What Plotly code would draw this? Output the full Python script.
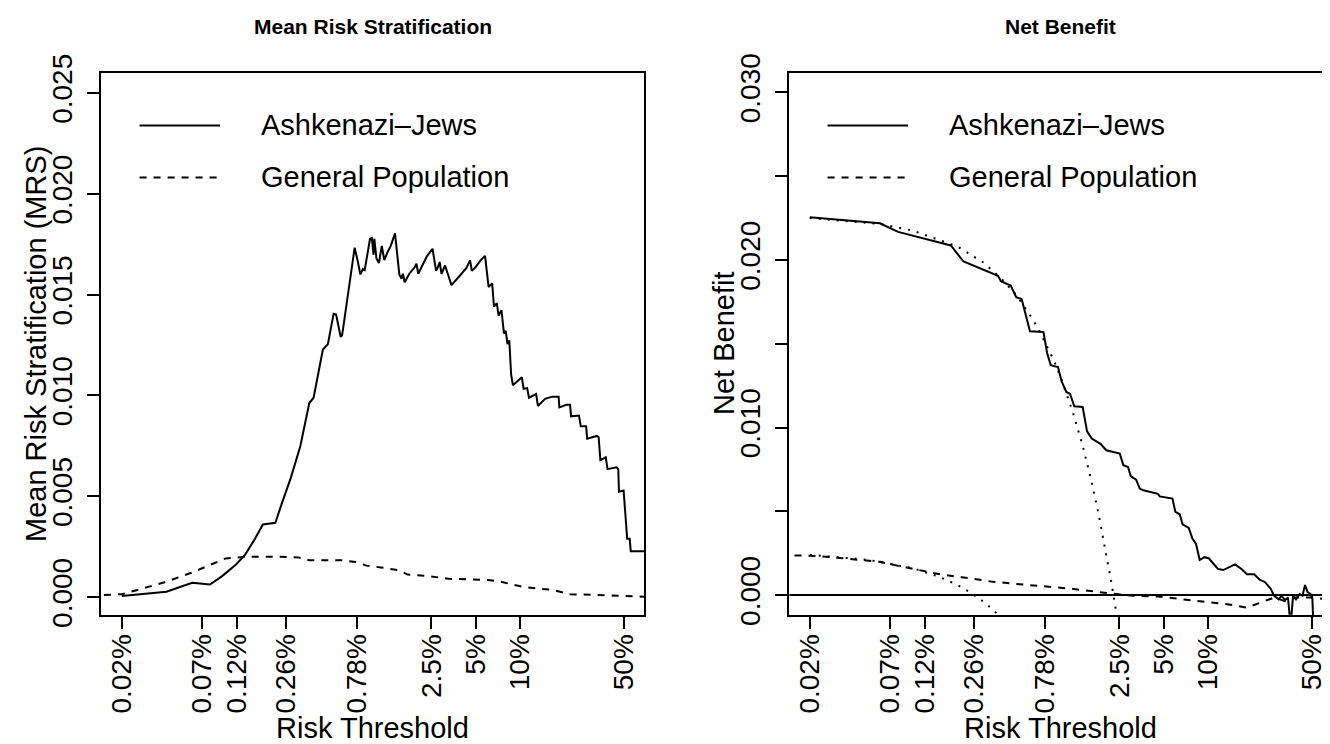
import plotly.graph_objects as go

# ---------------- data (risk thresholds in %) -------------
# Mean Risk Stratification - Ashkenazi-Jews (solid)
mrs_aj_t = [0.0200, 0.0401, 0.0599, 0.0791, 0.0951, 0.1188, 0.1366, 0.1596, 0.1804, 0.2017,
            0.2193, 0.2384, 0.2786, 0.3238, 0.3721, 0.3978, 0.4599, 0.4972, 0.5436, 0.5651,
            0.6073, 0.6210, 0.7548, 0.7891, 0.8253, 0.8581, 0.8824, 0.9592, 0.9863, 1.0139,
            1.0254, 1.0602, 1.1023, 1.1526, 1.1984, 1.2527, 1.3244, 1.4164, 1.5145, 1.5658,
            1.6012, 1.6464, 1.7694, 1.9239, 1.9782, 2.0340, 2.2108, 2.3375, 2.5415, 2.6134,
            2.6870, 2.7629, 2.8408, 2.9211, 3.0883, 3.2650, 3.4141, 3.8606, 4.3141, 4.5604,
            4.6892, 4.9579, 5.3911, 5.7624, 5.9251, 6.0926, 6.4417, 6.6237, 6.9241, 7.1198,
            7.4451, 7.7404, 7.9588, 8.1835, 8.4147, 8.6524, 8.8968, 9.4079, 10.226, 10.514,
            11.117, 11.432, 12.781, 13.140, 14.688, 16.422, 18.153, 18.358, 20.512, 21.689,
            22.056, 24.929, 25.632, 27.868, 28.334, 32.929, 33.858, 34.814, 37.853, 38.914,
            44.740, 45.998, 46.509, 50.003, 51.416, 52.869, 54.967, 55.887, 70.0]
mrs_aj_v = [0.000053, 0.000266, 0.000709, 0.000620, 0.001028, 0.001612, 0.002091, 0.002888, 0.003597, 0.003632,
            0.003685, 0.004483, 0.005900, 0.007495, 0.009621, 0.009887, 0.012279, 0.012544, 0.014050, 0.014015,
            0.012899, 0.012987, 0.017328, 0.016708, 0.016000, 0.016265, 0.016212, 0.017771, 0.017807, 0.016974,
            0.017771, 0.016797, 0.016566, 0.017417, 0.016708, 0.017062, 0.017417, 0.018037, 0.016000, 0.015787,
            0.016035, 0.015610, 0.016035, 0.016354, 0.016531, 0.016035, 0.016531, 0.016921, 0.017275, 0.016797,
            0.016177, 0.016354, 0.016619, 0.016035, 0.016442, 0.015911, 0.015468, 0.015911, 0.016318, 0.016708,
            0.016177, 0.016354, 0.016708, 0.016921, 0.016000, 0.015379, 0.015556, 0.014405, 0.014582, 0.013962,
            0.014228, 0.013076, 0.013200, 0.012544, 0.012722, 0.011038, 0.010507, 0.010684, 0.010897, 0.010330,
            0.010365, 0.009887, 0.010064, 0.009479, 0.009833, 0.009940, 0.009940, 0.009408, 0.009532, 0.009532,
            0.008965, 0.009001, 0.008469, 0.008469, 0.007849, 0.007991, 0.007938, 0.006786, 0.006928, 0.006343,
            0.006432, 0.006343, 0.005227, 0.005280, 0.004040, 0.002888, 0.002888, 0.002268, 0.002268]

# Mean Risk Stratification - General Population (dashed)
mrs_gp_t = [0.01514, 0.0200, 0.02716, 0.0401, 0.05926, 0.07822, 0.1006, 0.1222, 0.1366, 0.2132,
            0.3149, 0.3721, 0.6141, 0.7674, 0.9073, 1.1333, 1.4974, 1.7213, 2.4717, 3.2650,
            6.0256, 7.3196, 10.514, 16.422, 21.689, 32.02, 70.0]
mrs_gp_v = [0.000106, 0.000142, 0.000408, 0.000762, 0.001205, 0.001559, 0.001914, 0.001967, 0.002002, 0.002002,
            0.001967, 0.001825, 0.001825, 0.001736, 0.001559, 0.001471, 0.001329, 0.001116, 0.001028, 0.000904,
            0.000850, 0.000762, 0.000496, 0.000354, 0.000142, 0.000106, 0.000018]

# Net Benefit - Ashkenazi-Jews (solid)
nb_aj_t = [0.0200, 0.0597, 0.0792, 0.1802, 0.2197, 0.3762, 0.3937, 0.4589, 0.4996, 0.5439,
           0.6194, 0.7638, 0.8083, 0.8558, 0.9583, 1.0141, 1.0917, 1.1552, 1.2365, 1.4086,
           1.5082, 1.6232, 1.8593, 2.0358, 2.5107, 2.6569, 2.8608, 2.9763, 3.2396, 3.4285,
           3.6281, 4.5520, 4.6827, 5.7096, 5.9744, 6.3945, 6.6911, 7.3654, 7.7948, 8.2508,
           8.7340, 9.3992, 10.060, 10.952, 11.591, 12.618, 13.740, 15.126, 16.756, 18.239,
           20.427, 22.240, 24.210, 26.363, 27.894, 29.870, 31.255, 33.076, 34.594, 35.384,
           36.609, 37.451, 39.180, 41.470, 43.383, 45.146, 46.970, 49.149, 50.560, 52.03]
nb_aj_v = [0.022553, 0.022190, 0.021678, 0.020868, 0.019907, 0.019054, 0.018734, 0.018478, 0.017773, 0.017667,
           0.015747, 0.015704, 0.014466, 0.013720, 0.013613, 0.012760, 0.012119, 0.012013, 0.011266, 0.011223,
           0.009772, 0.009346, 0.009026, 0.008641, 0.008449, 0.007745, 0.007639, 0.007105, 0.006892, 0.006358,
           0.006252, 0.006038, 0.005889, 0.005761, 0.004971, 0.004822, 0.004225, 0.004011, 0.003371, 0.003051,
           0.002091, 0.002262, 0.002198, 0.001771, 0.001558, 0.001494, 0.001664, 0.001835, 0.001558, 0.001238,
           0.001238, 0.000917, 0.000768, 0.000384, -0.000043, -0.000256, -0.000043, -0.000299, -0.000149, -0.001110,
           -0.001110, -0.000043, -0.000256, 0.000064, -0.000043, 0.000597, 0.000171, 0.000064, -0.000149, -0.003]

# Net Benefit - General Population (dashed)
nb_gp_t = [0.01576, 0.0200, 0.02778, 0.04370, 0.05970, 0.07702, 0.1082, 0.1520, 0.2136, 0.3360,
           0.4721, 0.7428, 1.1685, 1.8385, 2.3068, 3.0606, 4.5520, 6.0423, 8.0205, 10.646,
           14.135, 18.239, 22.240, 27.894, 33.076, 39.180, 49.149, 64.52]
nb_gp_v = [0.002368, 0.002347, 0.002262, 0.002091, 0.001984, 0.001771, 0.001494, 0.001238, 0.001067, 0.000811,
           0.000683, 0.000555, 0.000384, 0.000171, 0.000064, -0.000043, -0.000085, -0.000213, -0.000299, -0.000469,
           -0.000576, -0.000747, -0.000469, -0.000149, -0.000363, -0.000149, -0.000149, -0.000256]

# Net Benefit - treat all (dotted), Ashkenazi-Jews
ta_aj_t = [0.02, 0.06, 0.1, 0.2, 0.3, 0.4, 0.5, 0.6, 0.7, 0.8, 0.9, 1.0, 1.2, 1.4, 1.6, 1.8, 2.0, 2.2, 2.4, 2.6]
ta_aj_v = [0.02250, 0.02215, 0.02175, 0.02080, 0.01985, 0.01885, 0.01790, 0.01690, 0.01595, 0.01495,
           0.01400, 0.01300, 0.01100, 0.00900, 0.00695, 0.00490, 0.00285, 0.00080, -0.00125, -0.00330]

# Net Benefit - treat all (dotted), General Population
ta_gp_t = [0.02, 0.05, 0.1, 0.15, 0.2, 0.25, 0.3, 0.35, 0.4]
ta_gp_v = [0.00240, 0.00210, 0.00160, 0.00110, 0.00060, 0.00010, -0.00040, -0.00090, -0.00140]

x_tick_vals = [0.02, 0.07, 0.12, 0.26, 0.78, 2.5, 5, 10, 50]
x_tick_text = ["0.02%", "0.07%", "0.12%", "0.26%", "0.78%", "2.5%", "5%", "10%", "50%"]
mrs_tick_vals = [0.0, 0.005, 0.010, 0.015, 0.020, 0.025]
mrs_tick_text = ["0.000", "0.005", "0.010", "0.015", "0.020", "0.025"]
nb_tick_vals = [0.0, 0.005, 0.010, 0.015, 0.020, 0.025, 0.030]
nb_tick_text = ["0.000", "", "0.010", "", "0.020", "", "0.030"]

legend_labels = ["Ashkenazi\u2013Jews", "General Population"]

# ---------------- figure -------------
W, H = 1330, 744
OFF = 8  # the page body margin shifts the figure by 8px
BLACK = "#000000"
FONT = "Liberation Sans, Arial, Helvetica, sans-serif"
SOLID = "solid"
DASHED = "7px,7px"
DOTTED = "2px,7px"
LW = 2


def fx(p):
    return (p - OFF) / W


def fy(p):
    return 1 - (p - OFF) / H


fig = go.Figure()


def add_line(x, y, dash, xa, ya):
    fig.add_trace(go.Scatter(x=x, y=y, mode="lines", xaxis=xa, yaxis=ya, showlegend=False,
                             hoverinfo="skip",
                             line=dict(color=BLACK, width=LW, dash=dash)))


add_line(mrs_aj_t, mrs_aj_v, SOLID, "x", "y")
add_line(mrs_gp_t, mrs_gp_v, DASHED, "x", "y")
add_line(ta_aj_t, ta_aj_v, DOTTED, "x2", "y2")
add_line(ta_gp_t, ta_gp_v, DOTTED, "x2", "y2")
add_line(nb_aj_t, nb_aj_v, SOLID, "x2", "y2")
add_line(nb_gp_t, nb_gp_v, DASHED, "x2", "y2")

# screen positions of the plot boxes
box_top, box_bot = 73, 615
left_l, left_r = 101.4, 644.0
box_w = left_r - left_l
right_l = 789.4
right_r = right_l + box_w
ydom = [fy(box_bot), fy(box_top)]

common_x = dict(type="log", tickmode="array", tickvals=x_tick_vals, ticktext=x_tick_text,
                tickangle=-90, ticks="outside", ticklen=12, tickwidth=2, tickcolor=BLACK,
                showline=True, linecolor=BLACK, linewidth=2, mirror=True,
                showgrid=False, zeroline=False, automargin=False, ticklabelstandoff=-6,
                tickfont=dict(family=FONT, size=28, color=BLACK))
common_y = dict(tickangle=-90, ticks="outside", ticklen=12, tickwidth=2,
                tickcolor=BLACK, showline=True, linecolor=BLACK, linewidth=2,
                showgrid=False, zeroline=False, automargin=False, ticklabelstandoff=4,
                tickfont=dict(family=FONT, size=28, color=BLACK))

fig.update_layout(
    width=W, height=H,
    margin=dict(l=0, r=0, t=0, b=0),
    paper_bgcolor="white", plot_bgcolor="white",
    font=dict(family=FONT, color=BLACK),
    xaxis=dict(domain=[fx(left_l), fx(left_r)], range=[-1.837, 1.837], anchor="y", **common_x),
    yaxis=dict(domain=ydom, range=[-0.00089, 0.02599], anchor="x", tickmode="array",
               tickvals=mrs_tick_vals, ticktext=mrs_tick_text, mirror=True, **common_y),
    xaxis2=dict(domain=[fx(right_l), min(1.0, fx(right_r))], range=[-1.837, 1.837], anchor="y2", **common_x),
    yaxis2=dict(domain=ydom, range=[-0.00119, 0.03116], anchor="x2", tickmode="array",
                tickvals=nb_tick_vals, ticktext=nb_tick_text, mirror=False, **common_y),
)

# horizontal reference line at zero on the net benefit panel
fig.add_shape(type="line", xref="x2 domain", yref="y2", x0=0, x1=1, y0=0, y1=0,
              line=dict(color=BLACK, width=2))

# titles
fig.add_annotation(text="<b>Mean Risk Stratification</b>", xref="paper", yref="paper",
                   x=fx((left_l + left_r) / 2), y=fy(27), showarrow=False,
                   xanchor="center", yanchor="middle", font=dict(family=FONT, size=21, color=BLACK))
fig.add_annotation(text="<b>Net Benefit</b>", xref="paper", yref="paper",
                   x=fx((right_l + right_r) / 2), y=fy(27), showarrow=False,
                   xanchor="center", yanchor="middle", font=dict(family=FONT, size=21, color=BLACK))

# axis titles
for cx in [(left_l + left_r) / 2, (right_l + right_r) / 2]:
    fig.add_annotation(text="Risk Threshold", xref="paper", yref="paper", x=fx(cx), y=fy(728),
                       showarrow=False, xanchor="center", yanchor="middle",
                       font=dict(family=FONT, size=29, color=BLACK))
fig.add_annotation(text="Mean Risk Stratification (MRS)", xref="paper", yref="paper",
                   x=fx(36), y=fy((box_top + box_bot) / 2), textangle=-90, showarrow=False,
                   xanchor="center", yanchor="middle", font=dict(family=FONT, size=29, color=BLACK))
fig.add_annotation(text="Net Benefit", xref="paper", yref="paper",
                   x=fx(36 + 688), y=fy((box_top + box_bot) / 2), textangle=-90, showarrow=False,
                   xanchor="center", yanchor="middle", font=dict(family=FONT, size=29, color=BLACK))

# legends
for off in [0, right_l - left_l]:
    for i, (lab, dash) in enumerate(zip(legend_labels, [SOLID, DASHED])):
        yy = 125.4 + i * 52
        fig.add_shape(type="line", xref="paper", yref="paper",
                      x0=fx(139.6 + off), x1=fx(220 + off), y0=fy(yy), y1=fy(yy),
                      line=dict(color=BLACK, width=LW, dash=dash))
        fig.add_annotation(text=lab, xref="paper", yref="paper", x=fx(259 + off), y=fy(yy),
                           showarrow=False, xanchor="left", yanchor="middle",
                           font=dict(family=FONT, size=29, color=BLACK))

fig.write_html("out.html")
